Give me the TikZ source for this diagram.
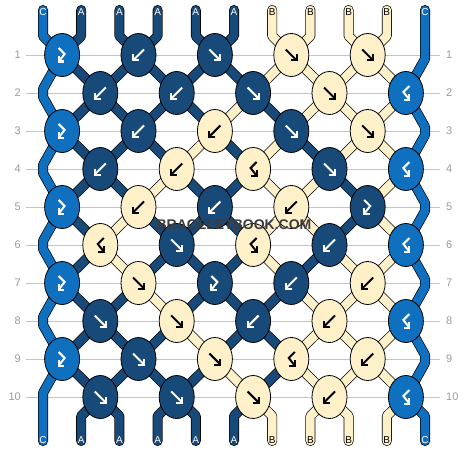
\documentclass[tikz,border=0pt]{standalone}
\usepackage{fontspec}
\setmainfont{Liberation Sans}
\usetikzlibrary{shapes.geometric}

\definecolor{stringC}{HTML}{1070C0}
\definecolor{stringA}{HTML}{174979}
\definecolor{stringB}{HTML}{FEF1C9}
\colorlet{inkC}{white}
\colorlet{inkA}{white}
\colorlet{inkB}{black}
\definecolor{rowgray}{HTML}{C4C4C4}
\definecolor{numgray}{HTML}{9C9C9C}
\definecolor{markgray}{HTML}{3C3C3C}

\pgfdeclarelayer{grid}
\pgfdeclarelayer{threads}
\pgfsetlayers{grid,threads,main}

\tikzset{
  thread/.style={draw=black, double=#1, line width=0.7pt, double distance=8.6pt, line join=round},
  knot/.style={ellipse, draw=black, line width=0.8pt, fill=#1, minimum width=35pt, minimum height=43pt, inner sep=0pt},
  rownum/.style={text=numgray, font=\fontsize{11}{13}\selectfont, inner sep=0pt},
  strandlabel/.style={font=\fontsize{10}{12}\selectfont, inner sep=0pt},
  watermark/.style={font=\bfseries\fontsize{14}{16}\selectfont, inner sep=0pt},
  % knot symbols
  fw/.pic={\draw[line width=2pt] (-5.5,-5.5) -- (5,5);
           \draw[line width=2pt] (-0.5,5.5) -- (5.5,5.5) -- (5.5,-0.5);},
  bw/.pic={\draw[line width=2pt] (5.5,-5.5) -- (-5,5);
           \draw[line width=2pt] (0.5,5.5) -- (-5.5,5.5) -- (-5.5,-0.5);},
  fb/.pic={\draw[line width=2pt] (-3.5,-7) -- (2.5,-1) -- (-3,6);
           \draw[line width=2pt] (-3.5,1) -- (-3.5,6.5) -- (2,6.5);},
  bf/.pic={\draw[line width=2pt] (3.5,-7) -- (-2.5,-1) -- (3,6);
           \draw[line width=2pt] (3.5,1) -- (3.5,6.5) -- (-2,6.5);},
}

\begin{document}
\begin{tikzpicture}[x=1pt, y=-1pt]
    \useasboundingbox (0,0) rectangle (468,452);
    \begin{pgfonlayer}{grid}
        \fill[white] (0,0) rectangle (468,452);
    \end{pgfonlayer}

    % row lines and numbers
    \foreach \r in {1,...,10}{
        \pgfmathsetmacro\y{55+38*(\r-1)}
        \begin{pgfonlayer}{grid}
            \draw[rowgray, line width=0.9pt] (26,\y) -- (440,\y);
        \end{pgfonlayer}
        \node[rownum, anchor=east] (numl\r) at (21,\y) {\r};
        \node[rownum, anchor=west] (numr\r) at (446,\y) {\r};
    }

    % knots: colour/symbol per row
    \foreach \r/\row in {
        1/{C/fb,A/bw,A/fw,B/fw,B/fw},
        2/{A/bw,A/bw,A/fw,B/fw,C/bf},
        3/{C/fb,A/bw,B/bw,A/fw,B/fw},
        4/{A/bw,B/bw,B/bf,A/fw,C/bf},
        5/{C/fb,B/bw,A/bw,B/bw,A/fb},
        6/{B/bf,A/fw,B/bf,A/bw,C/bf},
        7/{C/fb,B/fw,A/fb,A/bw,B/bw},
        8/{A/fw,B/fw,A/bw,B/bw,C/bf},
        9/{C/fb,A/fw,B/fw,B/bf,B/bw},
        10/{A/fw,A/fw,B/fw,B/bw,C/bf}}{
        \foreach \c/\t [count=\k] in \row {
            \pgfmathsetmacro\x{62.1+38.2*(1-mod(\r,2))+76.4*(\k-1)}
            \pgfmathsetmacro\y{55+38*(\r-1)}
            \node[knot=string\c] (k\r-\k) at (\x,\y) {};
            \pic[color=ink\c] at (k\r-\k) {\t};
        }
    }

    \begin{pgfonlayer}{threads}
        % threads between rows (positions 2..10)
        \foreach \r/\cols in {
            1/{A,A,A,A,A,B,B,B,B},
            2/{A,A,A,A,B,A,B,B,B},
            3/{A,A,A,B,A,B,A,B,B},
            4/{A,A,B,A,A,B,B,A,B},
            5/{A,B,A,A,A,B,B,A,B},
            6/{A,B,A,A,A,B,A,B,B},
            7/{A,A,B,A,A,A,B,B,B},
            8/{A,A,A,B,A,A,B,B,B},
            9/{A,A,A,A,B,A,B,B,B}}{
            \foreach \c [count=\i] in \cols {
                \pgfmathtruncatemacro\p{\i+1}
                \pgfmathtruncatemacro\rn{\r+1}
                \pgfmathtruncatemacro\ka{isodd(\r) ? ceil(\p/2) : floor(\p/2)}
                \pgfmathtruncatemacro\kb{isodd(\r) ? floor(\p/2) : ceil(\p/2)}
                \draw[thread=string\c] (k\r-\ka.center) -- (k\rn-\kb.center);
            }
        }

        % strands coming in at the top
        \foreach \c [count=\p] in {C,A,A,A,A,A,B,B,B,B}{
            \pgfmathsetmacro\x{43+38.2*(\p-1)}
            \pgfmathtruncatemacro\k{ceil(\p/2)}
            \coordinate (top\p) at (\x,10);
            \draw[thread=string\c, line cap=round] (top\p) -- (\x,36) -- (k1-\k.center);
        }

        % strands going out at the bottom
        \foreach \c [count=\i] in {A,A,A,A,A,B,B,B,B}{
            \pgfmathtruncatemacro\p{\i+1}
            \pgfmathsetmacro\x{43+38.2*(\p-1)}
            \pgfmathtruncatemacro\k{floor(\p/2)}
            \coordinate (bot\p) at (\x,441);
            \draw[thread=string\c, line cap=round] (k10-\k.center) -- (\x,416) -- (bot\p);
        }

        % left edge string
        \coordinate (bot1) at (43,441);
        \draw[thread=stringC, line cap=round] (k1-1.center) -- (43,89) -- (43,97)
            -- (k3-1.center) -- (43,165) -- (43,173)
            -- (k5-1.center) -- (43,241) -- (43,249)
            -- (k7-1.center) -- (43,317) -- (43,325)
            -- (k9-1.center) -- (43,393) -- (bot1);

        % right edge string
        \coordinate (top11) at (425,10);
        \coordinate (bot11) at (425,441);
        \draw[thread=stringC, line cap=round] (top11) -- (425,59)
            -- (k2-5.center) -- (425,127) -- (425,135)
            -- (k4-5.center) -- (425,203) -- (425,211)
            -- (k6-5.center) -- (425,279) -- (425,287)
            -- (k8-5.center) -- (425,355) -- (425,363)
            -- (k10-5.center) -- (425,416) -- (bot11);
    \end{pgfonlayer}

    % strand letters
    \foreach \c [count=\p] in {C,A,A,A,A,A,B,B,B,B,C}{
        \pgfmathsetmacro\x{43+38.2*(\p-1)}
        \node[strandlabel, text=ink\c] (ltop\p) at (\x,12) {\c};
        \node[strandlabel, text=ink\c] (lbot\p) at (\x,440) {\c};
    }

    % watermark
    \node[watermark, text=markgray] (wm) at (234,225) {BRACELETBOOK.COM};
\end{tikzpicture}
\end{document}
